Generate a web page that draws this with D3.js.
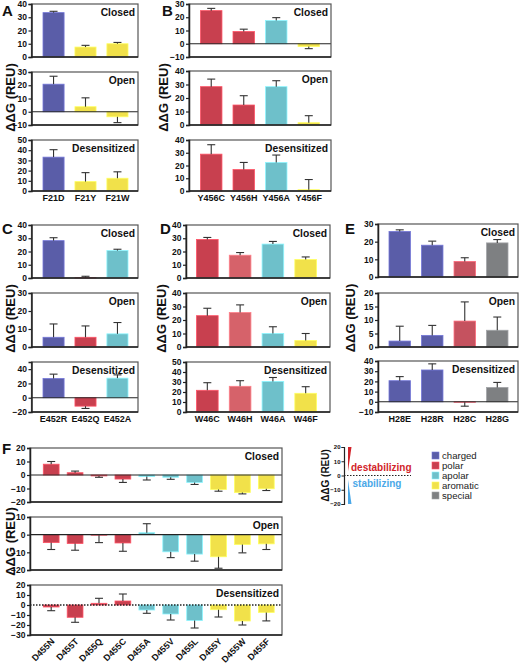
<!DOCTYPE html>
<html>
<head>
<meta charset="utf-8">
<script src="https://cdn.jsdelivr.net/npm/d3@7"></script>
<style>
  body { margin: 0; background: #fff; }
  svg { display: block; font-family: "Liberation Sans", Arial, sans-serif; }
</style>
</head>
<body>
<svg id="chart" width="520" height="665"></svg>
<script>
// ---- data ----
var aCats = ["F21D", "F21Y", "F21W"];
var aTypes = ["charged", "aromatic", "aromatic"];
var aClosed = [33.5, 7.5, 10], aClosedSd = [1, 1.3, 1];
var aOpen = [20.8, 3.8, -3.8], aOpenSd = [6, 6.7, 4.4];
var aDes = [33.2, 9.2, 12.5], aDesSd = [7.3, 8.8, 6.3];

var bCats = ["Y456C", "Y456H", "Y456A", "Y456F"];
var bTypes = ["polar", "polar", "apolar", "aromatic"];
var bClosed = [25, 9.2, 17.5, -2], bClosedSd = [1.7, 1.8, 2.2, 1.7];
var bOpen = [28.4, 14.8, 28.4, 1.7], bOpenSd = [5.6, 6.9, 4.4, 5.2];
var bDes = [28.9, 16.8, 22.4, 1], bDesSd = [7.4, 5.6, 5.8, 8];

var cCats = ["E452R", "E452Q", "E452A"];
var cTypes = ["charged", "polar", "apolar"];
var cClosed = [28.2, 0.3, 20.7], cClosedSd = [2.2, 1, 1];
var cOpen = [5.4, 5.4, 7.3], cOpenSd = [7.4, 6.3, 6.3];
var cDes = [26.9, -11.8, 27.4], cDesSd = [6.1, 3.2, 4.6];

var dCats = ["W46C", "W46H", "W46A", "W46F"];
var dTypes = ["polar", "polarLight", "apolar", "aromatic"];
var dClosed = [29.1, 17.2, 25.6, 13.9], dClosedSd = [1.5, 2, 2, 2];
var dOpen = [23.2, 25.5, 10, 4.8], dOpenSd = [5.5, 5.7, 5, 5.2];
var dDes = [21.7, 25.7, 30.6, 18.7], dDesSd = [7.6, 5.6, 3.9, 6.6];

var eCats = ["H28E", "H28R", "H28C", "H28G"];
var eTypes = ["charged", "charged", "polarMid", "special"];
var eClosed = [25.8, 18, 8.8, 19.3], eClosedSd = [0.9, 2.3, 2.1, 1.9];
var eOpen = [2.2, 4.3, 9.6, 6.2], eOpenSd = [5.5, 3.7, 7.1, 4.9];
var eDes = [20.7, 31.2, -0.5, 14.1], eDesSd = [4, 6, 3.8, 4.9];

var fCats = ["D455N", "D455T", "D455Q", "D455C", "D455A", "D455V", "D455L", "D455Y", "D455W", "D455F"];
var fTypes = ["polar", "polar", "polar", "polar", "apolar", "apolar", "apolar", "aromatic", "aromatic", "aromatic"];
var fClosed = [8, 1.7, -0.7, -3, -1.2, -1.7, -5.5, -10.7, -13, -10.2];
var fClosedSd = [2, 1.2, 1, 2.5, 2.5, 1.5, 1.5, 1.3, 1, 1.3];
var fOpen = [-4.5, -5, -0.3, -4.7, 1.1, -9.7, -11, -12.5, -5.6, -5.2];
var fOpenSd = [3.9, 3.8, 4.2, 4.7, 5.1, 3.3, 4, 6.5, 4.7, 3.2];
var fDes = [-2, -12.3, 1.7, 4, -5, -9, -15.5, -4.7, -16, -7.4];
var fDesSd = [3.7, 5, 5, 7, 3.3, 6, 7.5, 7.3, 4, 8.5];

var legendNames = ["charged", "polar", "apolar", "aromatic", "special"];
var legendTicks = [20, 10, 0, -10, -20];

var colorMap = {
  charged: "#5a5da8",
  polar: "#c8404f",
  polarLight: "#d6626a",
  polarMid: "#c5525f",
  apolar: "#6ec0ca",
  aromatic: "#f1e14a",
  special: "#7e8082"
};

var svg = d3.select("#chart");

function drawPanel(p) {
  var g = svg.append("g");
  var y = d3.scaleLinear().domain(p.domain).range([p.y1, p.y0]);
  var x = d3.scaleBand().domain(p.cats).range(p.band).paddingInner(0.34).paddingOuter(0);

  // bars
  g.selectAll(".bar").data(p.vals).enter().append("rect")
    .attr("x", function(d, i) { return x(p.cats[i]); })
    .attr("width", x.bandwidth())
    .attr("y", function(d) { return y(Math.max(0, d)); })
    .attr("height", function(d) { return Math.abs(y(d) - y(0)); })
    .attr("fill", function(d, i) { return colorMap[p.types[i]]; })
    .attr("stroke", function(d, i) { return d3.color(colorMap[p.types[i]]).brighter(0.7); })
    .attr("stroke-width", 0.8);

  // one-sided error bars
  var cap = 4;
  p.vals.forEach(function(v, i) {
    var cx = x(p.cats[i]) + x.bandwidth() / 2;
    var end = v + (v < 0 ? -p.sds[i] : p.sds[i]);
    g.append("line").attr("x1", cx).attr("x2", cx)
      .attr("y1", y(v)).attr("y2", y(end))
      .attr("stroke", "#333").attr("stroke-width", 1.1);
    g.append("line").attr("x1", cx - cap).attr("x2", cx + cap)
      .attr("y1", y(end)).attr("y2", y(end))
      .attr("stroke", "#333").attr("stroke-width", 1.1);
  });

  // zero line
  if (p.domain[0] < 0) {
    g.append("line").attr("x1", p.x0).attr("x2", p.x1)
      .attr("y1", y(0)).attr("y2", y(0))
      .attr("stroke", "#222").attr("stroke-width", p.dashedZero ? 1.4 : 1.1)
      .attr("stroke-dasharray", p.dashedZero ? "1.5,1.5" : null);
  }

  // frame
  g.append("rect").attr("x", p.x0).attr("y", p.y0)
    .attr("width", p.x1 - p.x0).attr("height", p.y1 - p.y0)
    .attr("fill", "none").attr("stroke", "#555").attr("stroke-width", 1.2);

  // y axis
  var ax = g.append("g").attr("transform", "translate(" + p.x0 + ",0)")
    .call(d3.axisLeft(y).tickValues(p.ticks).tickSize(3).tickPadding(1.5).tickFormat(d3.format("d")));
  ax.select(".domain").attr("stroke", "#222").attr("stroke-width", 1.5);
  ax.selectAll(".tick line").attr("stroke", "#222").attr("stroke-width", 1.2);
  ax.selectAll("text").attr("font-size", 8.5).attr("font-weight", "bold")
    .attr("fill", "#111").style("font-family", "'Liberation Sans', Arial, sans-serif");

  g.append("line").attr("x1", p.x0).attr("x2", p.x1)
    .attr("y1", p.y1).attr("y2", p.y1)
    .attr("stroke", "#222").attr("stroke-width", 1.5);

  // state title
  g.append("text").attr("x", p.x1 - 3).attr("y", p.y0 + 12)
    .attr("text-anchor", "end").attr("font-size", 10.3).attr("font-weight", "bold")
    .attr("fill", "#111").text(p.title);

  // category labels
  if (p.labels === "flat") {
    g.selectAll(".xl").data(p.cats).enter().append("text")
      .attr("x", function(d) { return x(d) + x.bandwidth() / 2; })
      .attr("y", p.y1 + 10)
      .attr("text-anchor", "middle").attr("font-size", 9).attr("font-weight", "bold")
      .attr("fill", "#111").text(function(d) { return d; });
  } else if (p.labels === "rot") {
    g.selectAll(".xl").data(p.cats).enter().append("text")
      .attr("transform", function(d) {
        return "translate(" + (x(d) + x.bandwidth() / 2 + 4) + "," + (p.y1 + 7) + ") rotate(-45)";
      })
      .attr("text-anchor", "end").attr("font-size", 9).attr("font-weight", "bold")
      .attr("fill", "#111").text(function(d) { return d; });
  }
}

function drawColumn(c) {
  var states = [
    { title: "Closed", vals: c.closed, sds: c.closedSd },
    { title: "Open", vals: c.open, sds: c.openSd },
    { title: "Desensitized", vals: c.des, sds: c.desSd }
  ];
  states.forEach(function(s, k) {
    drawPanel({
      x0: c.x0, x1: c.x1, y0: c.rows[k][0], y1: c.rows[k][1],
      band: c.band, domain: c.domains[k], ticks: c.ticks[k],
      cats: c.cats, types: c.types, vals: s.vals, sds: s.sds,
      title: s.title, labels: k === 2 ? c.labelStyle : null,
      dashedZero: k === 2 && c.dashedLast
    });
  });
  var midY = (c.rows[0][0] + c.rows[2][1]) / 2;
  svg.append("text")
    .attr("transform", "translate(" + c.labelX + "," + midY + ") rotate(-90)")
    .attr("text-anchor", "middle").attr("dominant-baseline", "middle")
    .attr("font-size", 13).attr("font-weight", "bold").attr("fill", "#111")
    .text("ΔΔG (REU)");
  svg.append("text").attr("x", c.letterX).attr("y", c.letterY)
    .attr("font-size", 15).attr("font-weight", "bold").attr("fill", "#111")
    .text(c.letter);
}

function ticksFor(a, b, s) { return d3.range(a, b + 0.01, s); }

var row1 = [[4, 57], [72, 125], [140, 191]];
var row2 = [[225, 278], [293, 347], [362, 412]];

drawColumn({
  letter: "A", letterX: 2, letterY: 16, labelX: 12,
  x0: 31.5, x1: 138, band: [43, 128], rows: row1,
  domains: [[0, 40], [-10, 30], [0, 50]],
  ticks: [ticksFor(0, 40, 10), ticksFor(-10, 30, 10), ticksFor(0, 50, 10)],
  cats: aCats, types: aTypes,
  closed: aClosed, closedSd: aClosedSd, open: aOpen, openSd: aOpenSd, des: aDes, desSd: aDesSd,
  labelStyle: "flat"
});

drawColumn({
  letter: "B", letterX: 162, letterY: 16, labelX: 165,
  x0: 189, x1: 331, band: [200.5, 319.5], rows: [[4, 57], [71, 125], [140, 191]],
  domains: [[-10, 30], [0, 40], [0, 40]],
  ticks: [ticksFor(-10, 30, 10), ticksFor(0, 40, 10), ticksFor(0, 40, 10)],
  cats: bCats, types: bTypes,
  closed: bClosed, closedSd: bClosedSd, open: bOpen, openSd: bOpenSd, des: bDes, desSd: bDesSd,
  labelStyle: "flat"
});

drawColumn({
  letter: "C", letterX: 2, letterY: 234, labelX: 12,
  x0: 31.5, x1: 138, band: [43, 128], rows: row2,
  domains: [[0, 40], [0, 30], [-20, 50]],
  ticks: [ticksFor(0, 40, 10), ticksFor(0, 30, 10), ticksFor(-20, 40, 20)],
  cats: cCats, types: cTypes,
  closed: cClosed, closedSd: cClosedSd, open: cOpen, openSd: cOpenSd, des: cDes, desSd: cDesSd,
  labelStyle: "flat"
});

drawColumn({
  letter: "D", letterX: 160, letterY: 234, labelX: 163,
  x0: 186, x1: 330, band: [196.5, 316.5], rows: row2,
  domains: [[0, 40], [0, 40], [0, 50]],
  ticks: [ticksFor(0, 40, 10), ticksFor(0, 40, 10), ticksFor(0, 50, 10)],
  cats: dCats, types: dTypes,
  closed: dClosed, closedSd: dClosedSd, open: dOpen, openSd: dOpenSd, des: dDes, desSd: dDesSd,
  labelStyle: "flat"
});

drawColumn({
  letter: "E", letterX: 345, letterY: 234, labelX: 352,
  x0: 378, x1: 518, band: [389, 508], rows: [[224, 277], [293, 347], [361, 412]],
  domains: [[0, 30], [0, 20], [-10, 40]],
  ticks: [ticksFor(0, 30, 10), ticksFor(0, 20, 5), ticksFor(-10, 40, 10)],
  cats: eCats, types: eTypes,
  closed: eClosed, closedSd: eClosedSd, open: eOpen, openSd: eOpenSd, des: eDes, desSd: eDesSd,
  labelStyle: "flat"
});

drawColumn({
  letter: "F", letterX: 2, letterY: 454, labelX: 12,
  x0: 30, x1: 282, band: [43.3, 274.2], rows: [[448, 502], [517, 570], [585, 635]],
  domains: [[-20, 20], [-20, 10], [-30, 20]],
  ticks: [ticksFor(-20, 20, 10), ticksFor(-20, 10, 10), ticksFor(-30, 20, 10)],
  cats: fCats, types: fTypes,
  closed: fClosed, closedSd: fClosedSd, open: fOpen, openSd: fOpenSd, des: fDes, desSd: fDesSd,
  labelStyle: "rot", dashedLast: true
});

// ---- legend: direction key ----
var key = svg.append("g");
var ky = d3.scaleLinear().domain([-20, 20]).range([504, 447]);
var kx = 344;
var kax = key.append("g").attr("transform", "translate(" + kx + ",0)")
  .call(d3.axisLeft(ky).tickValues(legendTicks).tickSize(2.5).tickPadding(1).tickFormat(d3.format("d")));
kax.select(".domain").attr("stroke", "#222").attr("stroke-width", 1.2);
kax.selectAll(".tick line").attr("stroke", "#222");
kax.selectAll("text").attr("font-size", 6).attr("font-weight", "bold").attr("fill", "#111")
  .style("font-family", "'Liberation Sans', Arial, sans-serif");
key.append("text")
  .attr("transform", "translate(326," + ky(0) + ") rotate(-90)")
  .attr("text-anchor", "middle").attr("dominant-baseline", "middle")
  .attr("font-size", 10).attr("font-weight", "bold").attr("fill", "#111")
  .text("ΔΔG (REU)");
key.append("line").attr("x1", kx).attr("x2", 411).attr("y1", ky(0)).attr("y2", ky(0))
  .attr("stroke", "#222").attr("stroke-width", 1.2).attr("stroke-dasharray", "1.5,1.5");
key.append("path")
  .attr("d", "M348," + ky(20) + "L351.5," + ky(20) + "L348," + ky(3) + "Z")
  .attr("fill", "#d2232a");
key.append("path")
  .attr("d", "M348," + ky(-20) + "L351.5," + ky(-20) + "L348," + ky(-3) + "Z")
  .attr("fill", "#4aa8e8");
key.append("text").attr("x", 351).attr("y", 471)
  .attr("font-size", 10).attr("font-weight", "bold").attr("fill", "#d2232a")
  .text("destabilizing");
key.append("text").attr("x", 352.5).attr("y", 487)
  .attr("font-size", 10).attr("font-weight", "bold").attr("fill", "#4aa8e8")
  .text("stabilizing");

// ---- legend: residue classes ----
var leg = svg.append("g").attr("transform", "translate(432,452)");
legendNames.forEach(function(n, i) {
  leg.append("rect").attr("x", 0).attr("y", i * 10).attr("width", 7).attr("height", 7)
    .attr("fill", colorMap[n]).attr("stroke", d3.color(colorMap[n]).brighter(0.7)).attr("stroke-width", 0.6);
  leg.append("text").attr("x", 10).attr("y", i * 10 + 7)
    .attr("font-size", 9.6).attr("fill", "#222").text(n);
});
</script>
</body>
</html>
